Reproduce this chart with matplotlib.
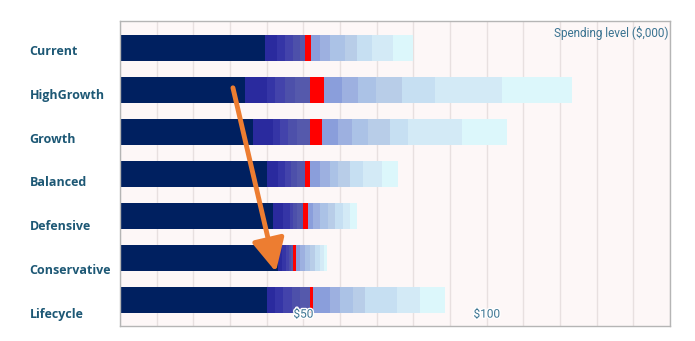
import matplotlib.pyplot as plt
import matplotlib.patheffects as pe
from matplotlib.ticker import MultipleLocator, NullFormatter

# spending distribution per strategy, cumulative band edges ($,000)
# navy base, 5 blue bands, median band (red), 7 light bands
categories = ['Current', 'HighGrowth', 'Growth', 'Balanced', 'Defensive', 'Conservative', 'Lifecycle']
current = [39.5, 42.7, 45.0, 47.3, 49.0, 50.5, 52.1, 54.5, 57.3, 61.4, 64.5, 68.6, 74.5, 80.0]
high_growth = [34.1, 40.0, 42.3, 45.0, 47.7, 51.8, 55.7, 60.5, 65.0, 69.7, 76.8, 85.9, 104.1, 123.2]
growth = [36.4, 41.6, 43.6, 45.9, 48.2, 51.8, 55.0, 59.5, 63.2, 67.5, 73.6, 78.6, 93.2, 105.5]
balanced = [40.0, 43.2, 45.0, 46.5, 48.3, 50.5, 51.8, 54.5, 57.3, 59.5, 62.7, 66.4, 71.4, 75.9]
defensive = [41.8, 44.5, 46.4, 47.3, 48.2, 49.8, 51.2, 52.7, 54.5, 56.8, 58.6, 60.9, 62.7, 64.5]
conservative = [43.2, 44.3, 45.2, 46.0, 46.7, 47.3, 48.0, 49.1, 50.5, 51.8, 53.2, 54.5, 55.6, 56.5]
lifecycle = [40.0, 42.3, 44.5, 46.8, 49.1, 51.8, 52.7, 57.3, 60.0, 63.6, 66.8, 75.5, 81.8, 88.6]
rows = [current, high_growth, growth, balanced, defensive, conservative, lifecycle]
tick_values = [50, 100]
tick_labels = ['$50', '$100']

band_colors = ['#002060',
               '#2a2a9e', '#3535a6', '#4343ab', '#4d50aa', '#5559ac',
               '#ff0000',
               '#8a9edb', '#9db0e0', '#abc2e6', '#b8cde8', '#c6dff2', '#d3eaf6', '#dcf7fb']

label_color = '#1d5875'
text_color = '#3a7391'

fig = plt.figure(figsize=(6.95, 3.41), dpi=100)
ax = fig.add_axes([120 / 695, 15 / 341, 550 / 695, 305 / 341])
ax.set_facecolor('#fdf7f7')

for i, edges in enumerate(rows):
    left = 0
    for j, right in enumerate(edges):
        ax.barh(i, right - left, left=left, height=0.62, color=band_colors[j], linewidth=0, zorder=2)
        left = right

ax.set_xlim(0, 150)
ax.set_ylim(6.62, -0.64)

# gridlines every $10, only two labelled values
ax.xaxis.set_major_locator(MultipleLocator(10))
ax.xaxis.set_major_formatter(NullFormatter())
ax.grid(axis='x', color='#e8e0e0', linewidth=1, zorder=0)
ax.tick_params(axis='x', length=0)
xtrans = ax.get_xaxis_transform()
for v, t in zip(tick_values, tick_labels):
    ax.text(v, 0.039, t, transform=xtrans, ha='center', va='center', fontsize=8.5,
            color=text_color, family='Roboto', zorder=6,
            path_effects=[pe.withStroke(linewidth=2, foreground='white')])

# category labels sit on a slightly wider pitch than the bars
ax.set_yticks([i * 1.043 + 0.05 for i in range(len(categories))])
ax.set_yticklabels(categories, ha='left', fontsize=9, fontweight='bold', color=label_color, family='Open Sans')
ax.tick_params(axis='y', length=0, pad=65)

for s in ax.spines.values():
    s.set_color('#b5b5b5')
    s.set_linewidth(1)

ax.text(0.998, 0.985, 'Spending level ($,000)', transform=ax.transAxes, ha='right', va='top',
        fontsize=8.5, color=text_color, family='Roboto')

# shift from growth to conservative
ax.annotate('', xy=(42.5, 5.33), xytext=(30.8, 0.95),
            arrowprops=dict(arrowstyle='-|>,head_length=0.5,head_width=0.25', mutation_scale=40,
                            lw=3.5, color='#ed7d31', shrinkA=0, shrinkB=0), zorder=5)

fig.savefig('out.png', dpi=100)
